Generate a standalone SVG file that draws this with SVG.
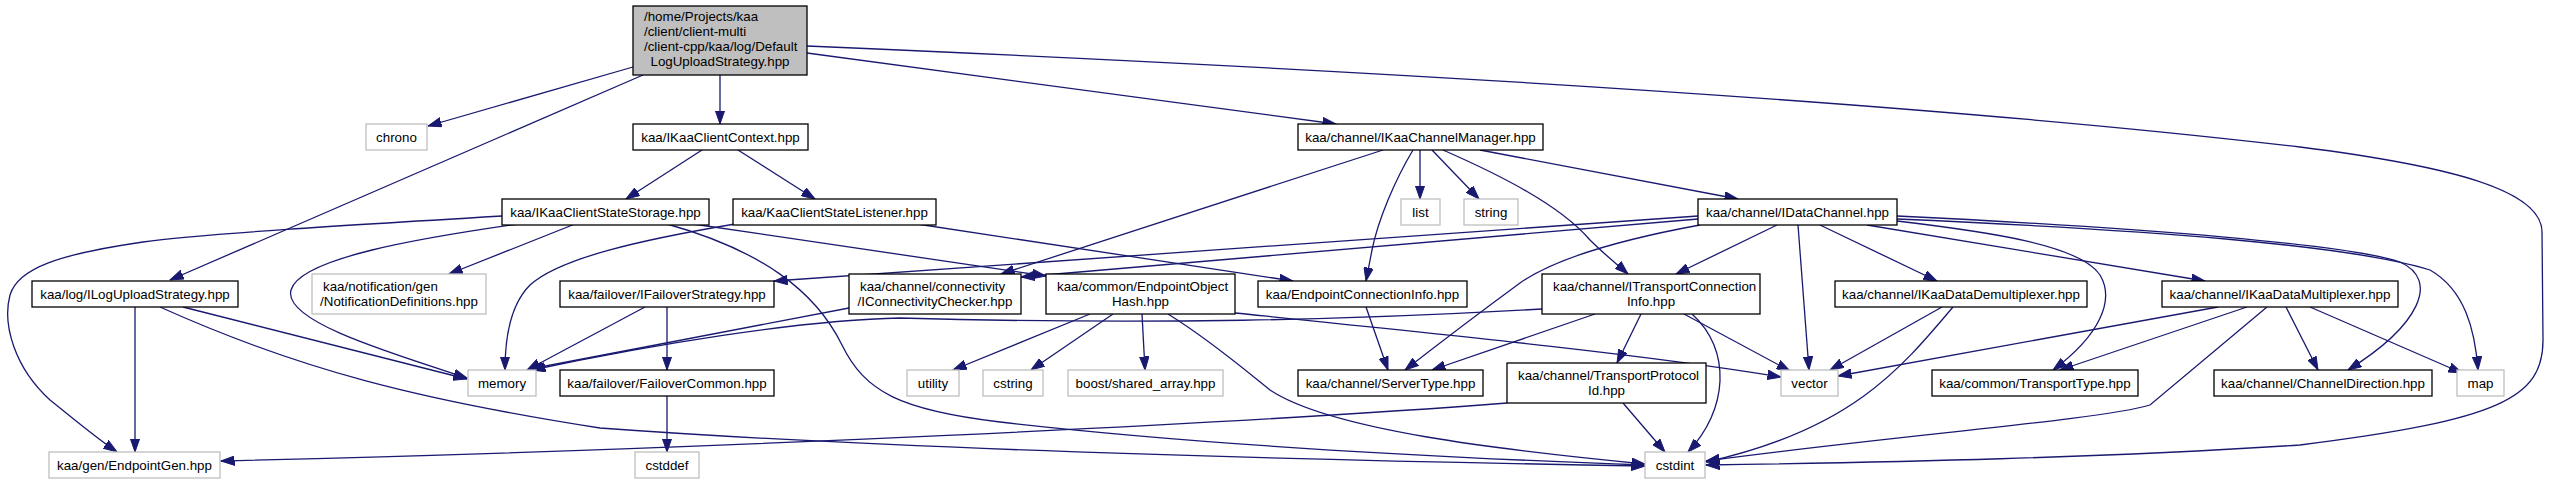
<svg xmlns="http://www.w3.org/2000/svg" width="2550" height="484" viewBox="0 0 2550 484">
<defs>
<marker id="arr" viewBox="0 0 14 10" markerUnits="userSpaceOnUse" markerWidth="14" markerHeight="10" refX="13.5" refY="5" orient="auto">
<path d="M0,0.3 L13.5,5 L0,9.7 z" fill="#191970" stroke="#191970" stroke-width="1"/>
</marker>
</defs>
<style>
.n rect{fill:#fff;stroke:#000;stroke-width:1.3}
.g rect{fill:#fff;stroke:#bfbfbf;stroke-width:1.3}
.r rect{fill:#bfbfbf;stroke:#000;stroke-width:1.3}
text{font-family:"Liberation Sans",Arial,Helvetica,sans-serif;font-size:13.33px;fill:#000}
.m{text-anchor:middle}
#edges path{fill:none;stroke:#191970;stroke-width:1.3;marker-end:url(#arr)}
</style>
<rect width="2550" height="484" fill="#fff"/>
<g id="edges">
<path d="M633,67 L428,126"/>
<path d="M643,75 L170,280"/>
<path d="M720,75 L720,124"/>
<path d="M807,53 L1336,124"/>
<path d="M807,46 C1300,67 1900,100 2300,147 C2450,166 2542,190 2542,232 L2543,340 C2543,398 2500,420 2300,445 C2100,458 1900,462 1706,465"/>
<path d="M183,307 L467,379"/>
<path d="M135,307 L135,452"/>
<path d="M160,307 C300,370 420,400 600,428 C900,450 1300,460 1645,466"/>
<path d="M702,150 L626,199"/>
<path d="M738,150 L815,199"/>
<path d="M502,216 C350,225 200,234 143,242 C60,254 18,268 10,295 C2,325 15,368 50,400 C75,420 95,437 117,452"/>
<path d="M518,224 C420,238 300,258 291,290 C283,320 380,350 467,378"/>
<path d="M575,224 L449,274"/>
<path d="M667,224 C760,250 815,290 842,345 C865,392 900,410 1000,422 C1200,445 1450,458 1645,465"/>
<path d="M693,224 L1046,276"/>
<path d="M917,224 L1293,281"/>
<path d="M735,224 C640,240 560,258 530,285 C510,305 505,340 505,370"/>
<path d="M1420,150 L1420,199"/>
<path d="M1432,150 L1479,199"/>
<path d="M1480,150 L1738,199"/>
<path d="M1443,150 C1500,175 1560,205 1590,240 C1605,255 1618,265 1628,274"/>
<path d="M1413,150 C1395,180 1378,220 1372,250 L1366,281"/>
<path d="M1383,150 L1001,274"/>
<path d="M1698,216 L774,281"/>
<path d="M1698,219 L1021,277"/>
<path d="M1700,225 C1640,236 1560,255 1520,283 C1490,305 1450,335 1405,370"/>
<path d="M1777,225 L1676,274"/>
<path d="M1798,225 L1809,370"/>
<path d="M1820,225 L1937,281"/>
<path d="M1867,225 L2205,281"/>
<path d="M1897,221 C1990,232 2080,245 2100,275 C2115,300 2100,335 2053,370"/>
<path d="M1897,216 C2150,228 2350,245 2400,262 C2440,280 2420,325 2348,370"/>
<path d="M1897,219 C2150,230 2350,245 2430,270 C2465,290 2475,330 2478,370"/>
<path d="M1542,309 C1350,320 1150,325 900,318 C800,320 650,345 532,370"/>
<path d="M1595,314 L1432,370"/>
<path d="M1641,314 L1617,363"/>
<path d="M1684,314 L1790,371"/>
<path d="M1692,314 C1732,350 1728,410 1688,452"/>
<path d="M1366,307 L1388,370"/>
<path d="M645,307 L527,370"/>
<path d="M667,307 L667,370"/>
<path d="M667,396 L667,452"/>
<path d="M849,308 L530,369"/>
<path d="M1090,314 L953,370"/>
<path d="M1113,314 L1031,370"/>
<path d="M1142,314 L1145,370"/>
<path d="M1168,314 C1210,340 1245,370 1270,390 C1330,430 1500,450 1645,464"/>
<path d="M1235,313 C1450,335 1650,355 1781,377"/>
<path d="M1507,403 C1250,423 700,450 221,461"/>
<path d="M1623,403 L1665,452"/>
<path d="M1942,307 L1830,370"/>
<path d="M1953,307 C1900,370 1850,430 1706,462"/>
<path d="M2218,307 L1838,376"/>
<path d="M2247,307 L2060,370"/>
<path d="M2267,307 L2150,405 C2100,420 1900,435 1706,461"/>
<path d="M2286,307 L2318,370"/>
<path d="M2310,307 L2462,373"/>
</g>
<g id="root" class="r"><rect x="633" y="6" width="174" height="69"/><text x="644" y="21">/home/Projects/kaa</text><text x="644" y="36">/client/client-multi</text><text x="644" y="51">/client-cpp/kaa/log/Default</text><text class="m" x="720" y="66">LogUploadStrategy.hpp</text></g>
<g id="chrono" class="g"><rect x="366" y="124" width="61" height="26"/><text class="m" x="396.5" y="141.5">chrono</text></g>
<g id="IKaaClientContext" class="n"><rect x="633" y="124" width="175" height="26"/><text class="m" x="720.5" y="141.5">kaa/IKaaClientContext.hpp</text></g>
<g id="IKaaChannelManager" class="n"><rect x="1298" y="124" width="245" height="26"/><text class="m" x="1420.5" y="141.5">kaa/channel/IKaaChannelManager.hpp</text></g>
<g id="ILogUploadStrategy" class="n"><rect x="32" y="281" width="206" height="26"/><text class="m" x="135" y="298.5">kaa/log/ILogUploadStrategy.hpp</text></g>
<g id="IKaaClientStateStorage" class="n"><rect x="502" y="199" width="207" height="26"/><text class="m" x="605.5" y="216.5">kaa/IKaaClientStateStorage.hpp</text></g>
<g id="KaaClientStateListener" class="n"><rect x="733" y="199" width="203" height="26"/><text class="m" x="834.5" y="216.5">kaa/KaaClientStateListener.hpp</text></g>
<g id="list" class="g"><rect x="1401" y="199" width="39" height="26"/><text class="m" x="1420.5" y="216.5">list</text></g>
<g id="string" class="g"><rect x="1464" y="199" width="54" height="26"/><text class="m" x="1491" y="216.5">string</text></g>
<g id="IDataChannel" class="n"><rect x="1698" y="199" width="199" height="26"/><text class="m" x="1797.5" y="216.5">kaa/channel/IDataChannel.hpp</text></g>
<g id="NotificationDefinitions" class="g"><rect x="312" y="274" width="174" height="40"/><text x="323" y="290.5">kaa/notification/gen</text><text class="m" x="399" y="305.5">/NotificationDefinitions.hpp</text></g>
<g id="IFailoverStrategy" class="n"><rect x="560" y="281" width="214" height="26"/><text class="m" x="667" y="298.5">kaa/failover/IFailoverStrategy.hpp</text></g>
<g id="IConnectivityChecker" class="n"><rect x="849" y="274" width="172" height="40"/><text x="860" y="290.5">kaa/channel/connectivity</text><text class="m" x="935" y="305.5">/IConnectivityChecker.hpp</text></g>
<g id="EndpointObjectHash" class="n"><rect x="1046" y="274" width="189" height="40"/><text x="1057" y="290.5">kaa/common/EndpointObject</text><text class="m" x="1140.5" y="305.5">Hash.hpp</text></g>
<g id="EndpointConnectionInfo" class="n"><rect x="1258" y="281" width="209" height="26"/><text class="m" x="1362.5" y="298.5">kaa/EndpointConnectionInfo.hpp</text></g>
<g id="ITransportConnectionInfo" class="n"><rect x="1542" y="274" width="218" height="40"/><text x="1553" y="290.5">kaa/channel/ITransportConnection</text><text class="m" x="1651" y="305.5">Info.hpp</text></g>
<g id="IKaaDataDemultiplexer" class="n"><rect x="1835" y="281" width="252" height="26"/><text class="m" x="1961" y="298.5">kaa/channel/IKaaDataDemultiplexer.hpp</text></g>
<g id="IKaaDataMultiplexer" class="n"><rect x="2162" y="281" width="236" height="26"/><text class="m" x="2280" y="298.5">kaa/channel/IKaaDataMultiplexer.hpp</text></g>
<g id="memory" class="g"><rect x="468" y="370" width="68" height="26"/><text class="m" x="502" y="387.5">memory</text></g>
<g id="FailoverCommon" class="n"><rect x="560" y="370" width="214" height="26"/><text class="m" x="667" y="387.5">kaa/failover/FailoverCommon.hpp</text></g>
<g id="utility" class="g"><rect x="907" y="370" width="52" height="26"/><text class="m" x="933" y="387.5">utility</text></g>
<g id="cstring" class="g"><rect x="983" y="370" width="60" height="26"/><text class="m" x="1013" y="387.5">cstring</text></g>
<g id="shared_array" class="g"><rect x="1068" y="370" width="155" height="26"/><text class="m" x="1145.5" y="387.5">boost/shared_array.hpp</text></g>
<g id="ServerType" class="n"><rect x="1298" y="370" width="185" height="26"/><text class="m" x="1390.5" y="387.5">kaa/channel/ServerType.hpp</text></g>
<g id="TransportProtocolId" class="n"><rect x="1507" y="363" width="199" height="40"/><text x="1518" y="379.5">kaa/channel/TransportProtocol</text><text class="m" x="1606.5" y="394.5">Id.hpp</text></g>
<g id="vector" class="g"><rect x="1781" y="370" width="57" height="26"/><text class="m" x="1809.5" y="387.5">vector</text></g>
<g id="TransportType" class="n"><rect x="1932" y="370" width="206" height="26"/><text class="m" x="2035" y="387.5">kaa/common/TransportType.hpp</text></g>
<g id="ChannelDirection" class="n"><rect x="2214" y="370" width="218" height="26"/><text class="m" x="2323" y="387.5">kaa/channel/ChannelDirection.hpp</text></g>
<g id="map" class="g"><rect x="2457" y="370" width="47" height="26"/><text class="m" x="2480.5" y="387.5">map</text></g>
<g id="EndpointGen" class="g"><rect x="49" y="452" width="171" height="26"/><text class="m" x="134.5" y="469.5">kaa/gen/EndpointGen.hpp</text></g>
<g id="cstddef" class="g"><rect x="635" y="452" width="64" height="26"/><text class="m" x="667" y="469.5">cstddef</text></g>
<g id="cstdint" class="g"><rect x="1645" y="452" width="60" height="26"/><text class="m" x="1675" y="469.5">cstdint</text></g>
</svg>
